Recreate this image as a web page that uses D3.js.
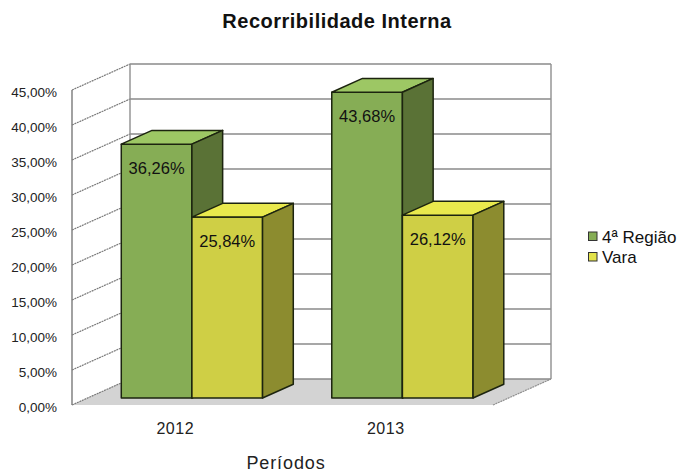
<!DOCTYPE html>
<html>
<head>
<meta charset="utf-8">
<script src="https://cdn.jsdelivr.net/npm/d3@7"></script>
<style>
  html, body { margin: 0; padding: 0; background: #fff; }
  svg { display: block; font-family: "Liberation Sans", Arial, sans-serif; }
</style>
</head>
<body>
<svg id="chart" width="683" height="474"></svg>
<script>
// ---- data ----
const categories = ["2012", "2013"];
const seriesNames = ["4ª Região", "Vara"];
const regiaoValues = [0.3626, 0.4368];
const varaValues = [0.2584, 0.2612];
const yTickValues = [0, 0.05, 0.10, 0.15, 0.20, 0.25, 0.30, 0.35, 0.40, 0.45];
const chartTitle = "Recorribilidade Interna";
const xAxisTitle = "Períodos";

const seriesValues = [regiaoValues, varaValues];
const colors = [
  { front: "#86ad55", top: "#9dc764", side: "#5a7236", legend: "#86ad55" },
  { front: "#cfcf45", top: "#e9e94d", side: "#8c8c2f", legend: "#e2e24a" }
];

const locale = d3.formatLocale({ decimal: ",", thousands: ".", grouping: [3], currency: ["R$", ""] });
const pct = locale.format(".2%");

const svg = d3.select("#chart");

// ---- 3D geometry ----
const depthX = 58, depthY = -26;          // wall depth offset
const barZ0 = 0.27, barZ1 = 0.80;          // bar front/back depth fraction

const y = d3.scaleLinear().domain([0, 0.45]).range([405, 90]);
const x = d3.scaleBand().domain(categories).range([71, 492]).padding(0);
const xSub = d3.scaleBand().domain(seriesNames).range([0, x.bandwidth()]).paddingInner(0).paddingOuter(0.49);

function P(xf, v, z) { return [xf + z * depthX, y(v) + z * depthY]; }
function pts(arr) { return arr.map(p => p.join(",")).join(" "); }

const x0 = 72, x1 = 493;
const vmax = y.domain()[1];

// floor
svg.append("polygon")
  .attr("points", pts([P(x0, 0, 0), P(x0, 0, 1), P(x1, 0, 1), P(x1, 0, 0)]))
  .attr("fill", "#d3d3d3");

// back wall gridlines
const grid = svg.append("g");
grid.selectAll("line.bg").data(yTickValues).join("line")
  .attr("x1", d => P(x0, d, 1)[0]).attr("y1", d => P(x0, d, 1)[1])
  .attr("x2", d => P(x1, d, 1)[0]).attr("y2", d => P(x1, d, 1)[1])
  .attr("stroke", "#8a8a8a").attr("stroke-width", 1.7);
// left wall lines
grid.selectAll("line.lw").data(yTickValues).join("line")
  .attr("x1", d => P(x0, d, 0)[0]).attr("y1", d => P(x0, d, 0)[1])
  .attr("x2", d => P(x0, d, 1)[0]).attr("y2", d => P(x0, d, 1)[1])
  .attr("stroke", "#7a7a7a").attr("stroke-width", 1.2).attr("stroke-dasharray", "2,0.7");
// right floor edge
grid.append("line")
  .attr("x1", P(x1, 0, 0)[0]).attr("y1", P(x1, 0, 0)[1])
  .attr("x2", P(x1, 0, 1)[0]).attr("y2", P(x1, 0, 1)[1])
  .attr("stroke", "#8f8f8f").attr("stroke-width", 1.2).attr("stroke-dasharray", "2,0.7");
// verticals
[[x0, 0], [x0, 1], [x1, 1]].forEach(([xx, z]) => {
  grid.append("line")
    .attr("x1", P(xx, 0, z)[0]).attr("y1", P(xx, 0, z)[1])
    .attr("x2", P(xx, vmax, z)[0]).attr("y2", P(xx, vmax, z)[1])
    .attr("stroke", z === 0 ? "#7a7a7a" : "#8f8f8f").attr("stroke-width", 1.4);
});

// y tick labels
svg.append("g").selectAll("text").data(yTickValues).join("text")
  .attr("x", 57).attr("y", d => y(d) + 2.5).attr("dy", "0.35em")
  .attr("text-anchor", "end").attr("font-size", 13.5).attr("fill", "#222")
  .text(d => pct(d));

// bars
const bars = svg.append("g");
categories.forEach((c, ci) => {
  seriesNames.forEach((s, si) => {
    const v = seriesValues[si][ci];
    const xl = x(c) + xSub(s), xr = xl + xSub.bandwidth();
    const col = colors[si];
    const g = bars.append("g").attr("stroke", "#1c240f").attr("stroke-width", 1.5).attr("stroke-linejoin", "round");
    g.append("polygon").attr("fill", col.front)
      .attr("points", pts([P(xl, 0, barZ0), P(xl, v, barZ0), P(xr, v, barZ0), P(xr, 0, barZ0)]));
    g.append("polygon").attr("fill", col.top)
      .attr("points", pts([P(xl, v, barZ0), P(xl, v, barZ1), P(xr, v, barZ1), P(xr, v, barZ0)]));
    g.append("polygon").attr("fill", col.side)
      .attr("points", pts([P(xr, 0, barZ0), P(xr, v, barZ0), P(xr, v, barZ1), P(xr, 0, barZ1)]));
    const top = P(xl, v, barZ0);
    bars.append("text")
      .attr("x", (P(xl, v, barZ0)[0] + P(xr, v, barZ0)[0]) / 2)
      .attr("y", top[1] + 30)
      .attr("text-anchor", "middle").attr("font-size", 16.5).attr("fill", "#111")
      .text(pct(v));
  });
});

// category labels
svg.append("g").selectAll("text").data(categories).join("text")
  .attr("x", d => x(d) + x.bandwidth() / 2 - 1).attr("y", 434)
  .attr("text-anchor", "middle").attr("font-size", 16).attr("letter-spacing", 0.5).attr("fill", "#222")
  .text(d => d);

// axis title
svg.append("text").attr("x", 286).attr("y", 469)
  .attr("text-anchor", "middle").attr("font-size", 18).attr("letter-spacing", 0.9).attr("fill", "#222")
  .text(xAxisTitle);

// chart title
svg.append("text").attr("x", 337).attr("y", 28)
  .attr("text-anchor", "middle").attr("font-size", 20).attr("font-weight", "bold").attr("letter-spacing", 0.5).attr("fill", "#111")
  .text(chartTitle);

// legend
const legend = svg.append("g");
seriesNames.forEach((s, i) => {
  const ly = 232 + i * 20.5;
  legend.append("rect").attr("x", 588.5).attr("y", ly).attr("width", 8.5).attr("height", 8.5)
    .attr("fill", colors[i].legend).attr("stroke", "#333").attr("stroke-width", 1);
  legend.append("text").attr("x", 602).attr("y", ly + 10.5)
    .attr("font-size", 17).attr("fill", "#111").text(s);
});
</script>
</body>
</html>
